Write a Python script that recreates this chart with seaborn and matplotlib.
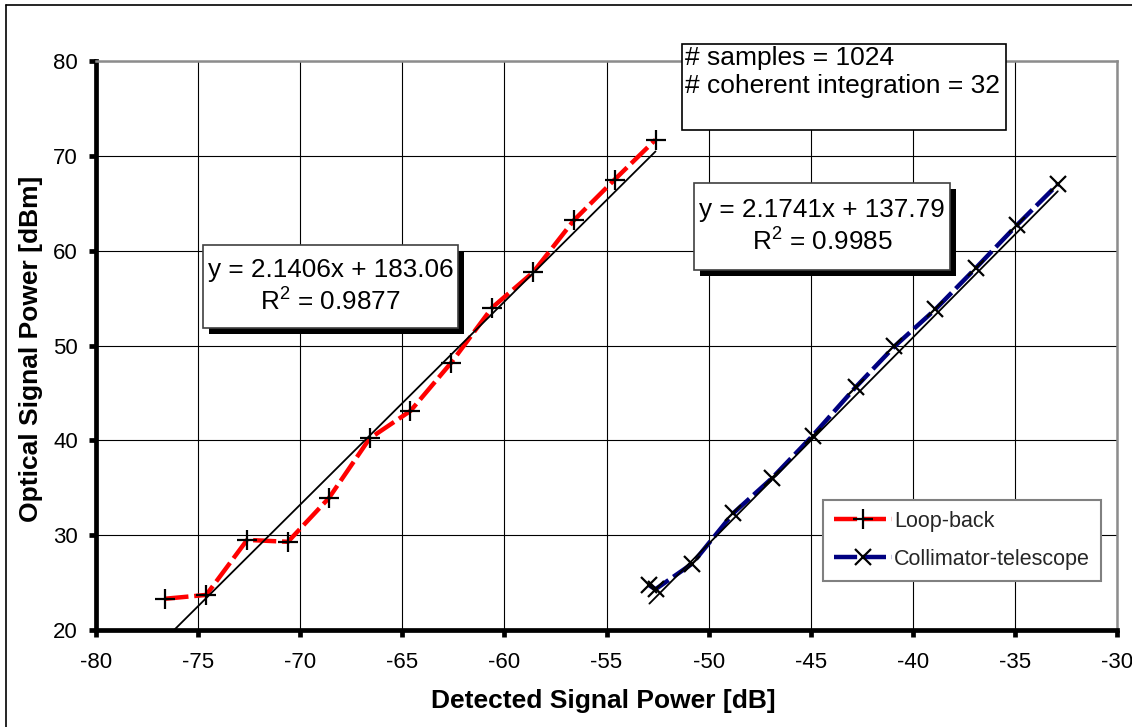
import matplotlib
matplotlib.use("Agg")
import matplotlib.pyplot as plt
from matplotlib.patches import Rectangle
from matplotlib.lines import Line2D
import numpy as np
import pandas as pd
import seaborn as sns

# Measured data
loop_x = [-76.6, -74.6, -72.6, -70.6, -68.6, -66.6, -64.6, -62.6, -60.6, -58.6, -56.6, -54.6, -52.6]
loop_y = [23.3, 23.7, 29.5, 29.3, 33.9, 40.2, 43.1, 48.2, 54.0, 57.7, 63.2, 67.5, 71.7]
coll_x = [-52.9, -52.6, -50.8, -48.8, -46.9, -44.9, -42.8, -40.9, -38.9, -36.9, -34.9, -32.9]
coll_y = [24.7, 24.3, 27.0, 32.3, 36.0, 40.5, 45.6, 49.9, 53.8, 58.2, 62.7, 67.0]

series_names = ["Loop-back", "Collimator-telescope"]

# Linear trend lines (slope, intercept, R^2)
fit_slope = [2.1406, 2.1741]
fit_intercept = [183.06, 137.79]
fit_r2 = [0.9877, 0.9985]

x_ticks = [-80, -75, -70, -65, -60, -55, -50, -45, -40, -35, -30]
y_ticks = [20, 30, 40, 50, 60, 70, 80]

sns.set_theme(style="white")
plt.rcParams["font.family"] = ["Liberation Sans", "DejaVu Sans"]
plt.rcParams["mathtext.fontset"] = "custom"
plt.rcParams["mathtext.rm"] = "Liberation Sans"
plt.rcParams["mathtext.it"] = "Liberation Sans"
plt.rcParams["mathtext.default"] = "regular"

W, H = 1132, 727
fig = plt.figure(figsize=(W / 100, H / 100), dpi=100)


def fx(px):
    return px / W


def fy(py):
    return 1 - py / H


ax = fig.add_axes([fx(96), fy(630), fx(1117) - fx(96), fy(61) - fy(630)])

loop_df = pd.DataFrame({"x": loop_x, "y": loop_y})
coll_df = pd.DataFrame({"x": coll_x, "y": coll_y})

sns.lineplot(data=loop_df, x="x", y="y", ax=ax, sort=False, estimator=None,
             color="#ff0000", linewidth=3.2, dashes=False,
             linestyle=(0, (5.2, 1.3)), marker="+", markersize=14,
             markeredgecolor="black", markeredgewidth=1.6,
             label=series_names[0], zorder=4)
sns.lineplot(data=coll_df, x="x", y="y", ax=ax, sort=False, estimator=None,
             color="#000080", linewidth=3.2, dashes=False,
             linestyle=(0, (5.2, 1.3)), marker="x", markersize=11,
             markeredgecolor="black", markeredgewidth=1.6,
             label=series_names[1], zorder=4)

# trend lines over each series' x range
for xs, m, b in zip([loop_x, coll_x], fit_slope, fit_intercept):
    tx = np.array([min(xs), max(xs)])
    sns.lineplot(x=tx, y=m * tx + b, ax=ax, color="black", linewidth=1.3,
                 estimator=None, sort=False, zorder=5, legend=False)

ax.set_xlim(-80, -30)
ax.set_ylim(20, 80)
ax.set_xticks(x_ticks)
ax.set_yticks(y_ticks)
ax.set_xticklabels([str(t) for t in x_ticks])
ax.set_yticklabels([str(t) for t in y_ticks])
ax.grid(True, color="black", linewidth=0.8)
ax.set_axisbelow(True)

for side in ["left", "bottom"]:
    ax.spines[side].set_color("black")
    ax.spines[side].set_linewidth(3.4)
for side in ["top", "right"]:
    ax.spines[side].set_color("#8c8c8c")
    ax.spines[side].set_linewidth(1.8)

ax.tick_params(axis="both", which="major", direction="out", length=5,
               width=3.4, color="black", labelsize=16, labelcolor="black")
ax.tick_params(axis="x", pad=11, bottom=True)
ax.tick_params(axis="y", pad=8, left=True)

ax.set_xlabel("Detected Signal Power [dB]", fontsize=19, fontweight="bold",
              color="black")
ax.set_ylabel("Optical Signal Power [dBm]", fontsize=19, fontweight="bold",
              color="black")
ax.xaxis.set_label_coords(0.497, -0.103)
ax.yaxis.set_label_coords(-0.052, 0.494)

# legend
handles, labels = ax.get_legend_handles_labels()
keep = [(h, l) for h, l in zip(handles, labels) if l in series_names]
leg = ax.legend([h for h, _ in keep], [l for _, l in keep],
                loc="upper left", bbox_to_anchor=(0.712, 0.2285),
                fontsize=15.5, frameon=True, fancybox=False, framealpha=1,
                edgecolor="#808080", handlelength=2.7, handletextpad=0.1,
                borderpad=0.5, labelspacing=0.8, borderaxespad=0)
leg.get_frame().set_linewidth(1.5)


def text_box(x0, y0, x1, y1, shadow):
    if shadow:
        fig.add_artist(Rectangle((fx(x0 + 6), fy(y1 + 6)), fx(x1 - x0), fy(y0) - fy(y1),
                                 transform=fig.transFigure, facecolor="black",
                                 edgecolor="black", linewidth=0, zorder=8))
    fig.add_artist(Rectangle((fx(x0), fy(y1)), fx(x1 - x0), fy(y0) - fy(y1),
                             transform=fig.transFigure, facecolor="white",
                             edgecolor="#404040" if shadow else "black",
                             linewidth=1.2, zorder=9))


def eq_text(i):
    return (f"y = {fit_slope[i]:.4f}x + {fit_intercept[i]:.2f}\n"
            f"R$^{{2}}$ = {fit_r2[i]:.4f}")


# trend line equation boxes
text_box(203, 245, 458, 328, True)
fig.text(fx(330.5), fy(287), eq_text(0), ha="center", va="center",
         fontsize=18.8, linespacing=1.3, color="black", zorder=10)
text_box(694, 183, 950, 270, True)
fig.text(fx(822), fy(227), eq_text(1), ha="center", va="center",
         fontsize=18.8, linespacing=1.3, color="black", zorder=10)

# acquisition settings box
text_box(682, 44, 1006, 130, False)
fig.text(fx(685), fy(46), "# samples = 1024\n# coherent integration = 32",
         ha="left", va="top", fontsize=19, linespacing=1.2,
         color="black", zorder=10)

# outer frame (top and left edges)
fig.add_artist(Line2D([fx(5.5), fx(5.5)], [fy(4.5), 0], transform=fig.transFigure,
                      color="black", linewidth=1.2))
fig.add_artist(Line2D([fx(5.5), 1], [fy(4.5), fy(4.5)], transform=fig.transFigure,
                      color="black", linewidth=1.2))

fig.savefig("out.png", dpi=100, facecolor="white")
